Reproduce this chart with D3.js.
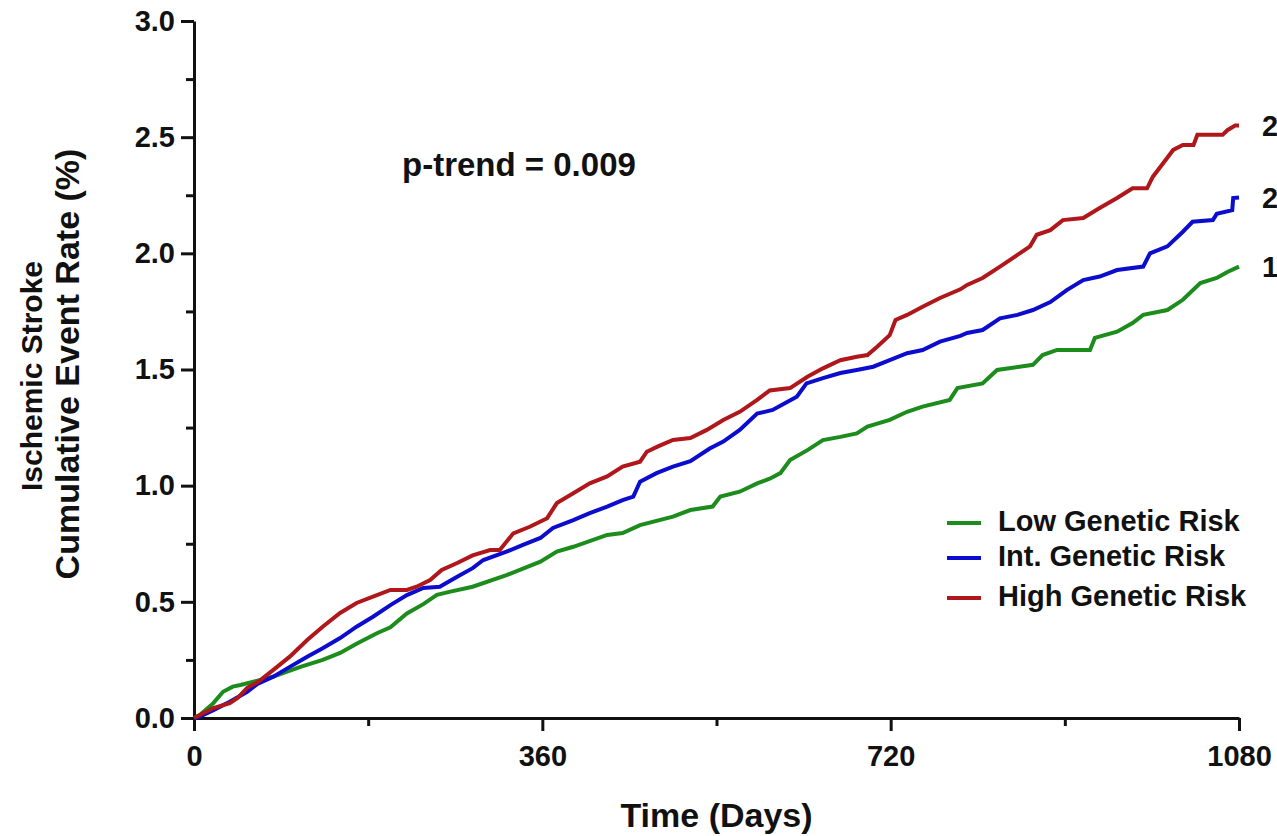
<!DOCTYPE html>
<html>
<head>
<meta charset="utf-8">
<script src="https://cdn.jsdelivr.net/npm/d3@7"></script>
<style>
  html, body { margin: 0; padding: 0; background: #fff; }
  svg { display: block; }
  text { font-family: "Liberation Sans", Arial, Helvetica, sans-serif; font-weight: bold; fill: #111; }
</style>
</head>
<body>
<svg id="chart" width="1277" height="836"></svg>
<script>
// ---- data ----
const seriesNames = ["Low Genetic Risk", "Int. Genetic Risk", "High Genetic Risk"];
const endLabels = ["1.94", "2.24", "2.55"];

const lowDays = [0, 6, 20, 30, 40, 48, 82, 110, 133, 151, 168, 189, 203, 220, 237, 251, 265, 288, 323, 358, 375, 392, 427, 443, 461, 495, 513, 536, 544, 564, 582, 595, 606, 616, 634, 650, 668, 685, 696, 719, 737, 753, 781, 789, 815, 830, 867, 877, 892, 926, 931, 954, 970, 981, 1006, 1022, 1040, 1057, 1068, 1080];
const lowRate = [0, 0.013, 0.064, 0.113, 0.135, 0.142, 0.178, 0.22, 0.25, 0.28, 0.32, 0.365, 0.39, 0.45, 0.49, 0.53, 0.544, 0.565, 0.615, 0.673, 0.716, 0.737, 0.788, 0.796, 0.83, 0.867, 0.895, 0.91, 0.953, 0.974, 1.01, 1.03, 1.054, 1.11, 1.153, 1.196, 1.21, 1.225, 1.254, 1.283, 1.318, 1.34, 1.369, 1.42, 1.44, 1.498, 1.52, 1.562, 1.584, 1.584, 1.636, 1.663, 1.70, 1.735, 1.756, 1.80, 1.872, 1.894, 1.92, 1.943];

const intDays = [0, 6, 20, 37, 55, 65, 82, 99, 117, 133, 151, 168, 185, 203, 220, 237, 254, 272, 288, 299, 323, 340, 358, 371, 392, 409, 427, 443, 454, 461, 478, 495, 513, 533, 547, 564, 582, 598, 613, 623, 633, 650, 668, 685, 702, 719, 737, 753, 771, 792, 799, 815, 833, 851, 867, 885, 902, 919, 936, 954, 981, 988, 1006, 1022, 1032, 1053, 1057, 1073, 1074, 1080];
const intRate = [0, 0.006, 0.034, 0.07, 0.113, 0.145, 0.178, 0.22, 0.264, 0.30, 0.344, 0.393, 0.436, 0.486, 0.529, 0.56, 0.565, 0.608, 0.645, 0.68, 0.716, 0.745, 0.775, 0.818, 0.852, 0.882, 0.91, 0.938, 0.953, 1.017, 1.054, 1.082, 1.105, 1.16, 1.19, 1.24, 1.31, 1.326, 1.36, 1.383, 1.44, 1.463, 1.485, 1.498, 1.512, 1.54, 1.57, 1.584, 1.62, 1.645, 1.657, 1.67, 1.72, 1.735, 1.756, 1.79, 1.842, 1.885, 1.9, 1.928, 1.943, 2.0, 2.03, 2.093, 2.136, 2.143, 2.17, 2.186, 2.238, 2.24];

const highDays = [0, 20, 37, 45, 55, 66, 82, 99, 117, 133, 151, 168, 185, 203, 220, 230, 244, 256, 272, 288, 306, 316, 330, 347, 365, 375, 392, 409, 427, 443, 461, 468, 479, 495, 513, 530, 547, 564, 582, 595, 616, 634, 650, 668, 685, 696, 706, 719, 725, 737, 753, 771, 792, 799, 815, 833, 851, 864, 871, 885, 898, 919, 936, 954, 970, 985, 991, 1002, 1012, 1022, 1033, 1037, 1063, 1068, 1076, 1080];
const highRate = [0, 0.043, 0.064, 0.086, 0.13, 0.155, 0.207, 0.264, 0.336, 0.393, 0.452, 0.495, 0.522, 0.551, 0.551, 0.565, 0.594, 0.637, 0.667, 0.70, 0.723, 0.723, 0.795, 0.823, 0.86, 0.925, 0.967, 1.01, 1.04, 1.082, 1.103, 1.146, 1.168, 1.197, 1.205, 1.24, 1.283, 1.318, 1.369, 1.41, 1.42, 1.469, 1.505, 1.54, 1.555, 1.562, 1.598, 1.648, 1.713, 1.735, 1.77, 1.808, 1.845, 1.864, 1.894, 1.943, 1.993, 2.03, 2.08, 2.10, 2.143, 2.152, 2.195, 2.238, 2.28, 2.28, 2.33, 2.39, 2.445, 2.466, 2.466, 2.51, 2.51, 2.53, 2.55, 2.55];

const xMajorTicks = [0, 360, 720, 1080];
const xMinorTicks = [180, 540, 900];
const yMajorTicks = [0, 0.5, 1.0, 1.5, 2.0, 2.5, 3.0];
const yMinorTicks = [0.25, 0.75, 1.25, 1.75, 2.25, 2.75];
const colors = ["#1c8c1c", "#0c0ccf", "#b0171b"];

// ---- drawing ----
const svg = d3.select("#chart");
const x = d3.scaleLinear().domain([0, 1080]).range([194, 1239]);
const y = d3.scaleLinear().domain([0, 3]).range([718, 21]);

const series = [
  { name: seriesNames[0], days: lowDays, rate: lowRate, color: colors[0], end: endLabels[0] },
  { name: seriesNames[1], days: intDays, rate: intRate, color: colors[1], end: endLabels[1] },
  { name: seriesNames[2], days: highDays, rate: highRate, color: colors[2], end: endLabels[2] }
];

function styleAxis(g) {
  g.selectAll("path.domain").attr("stroke", "#111").attr("stroke-width", 3);
  g.selectAll(".tick line").attr("stroke", "#111").attr("stroke-width", 3);
  g.selectAll(".tick text").attr("font-size", 29).attr("font-weight", "bold")
    .attr("font-family", "'Liberation Sans', Arial, sans-serif").attr("fill", "#111");
}

// x axis
const gx = svg.append("g").attr("transform", `translate(0,${y(0)})`)
  .call(d3.axisBottom(x).tickValues(xMajorTicks).tickSize(13).tickSizeOuter(0).tickPadding(14).tickFormat(d3.format("d")));
styleAxis(gx);
const gxm = svg.append("g").attr("transform", `translate(0,${y(0)})`)
  .call(d3.axisBottom(x).tickValues(xMinorTicks).tickSize(8).tickFormat(""));
gxm.select("path.domain").remove();
styleAxis(gxm);

// y axis
const gy = svg.append("g").attr("transform", `translate(${x(0)},0)`)
  .call(d3.axisLeft(y).tickValues(yMajorTicks).tickSize(13).tickSizeOuter(0).tickPadding(6).tickFormat(d3.format(".1f")));
styleAxis(gy);
const gym = svg.append("g").attr("transform", `translate(${x(0)},0)`)
  .call(d3.axisLeft(y).tickValues(yMinorTicks).tickSize(8).tickFormat(""));
gym.select("path.domain").remove();
styleAxis(gym);

// lines
const line = d3.line().x(d => x(d[0])).y(d => y(d[1])).curve(d3.curveLinear);
series.forEach(s => {
  const pts = s.days.map((d, i) => [d, s.rate[i]]);
  svg.append("path").datum(pts)
    .attr("d", line)
    .attr("fill", "none")
    .attr("stroke", s.color)
    .attr("stroke-width", 4)
    .attr("stroke-linejoin", "miter");
  // end value label (clipped by the page edge as in the reference)
  svg.append("text")
    .attr("x", x(1080) + 23)
    .attr("y", y(s.rate[s.rate.length - 1]) + 3)
    .attr("dominant-baseline", "middle")
    .attr("font-size", 29)
    .text(s.end);
});

// p-trend annotation
svg.append("text").attr("x", 402).attr("y", 167).attr("dominant-baseline", "middle")
  .attr("font-size", 33).text("p-trend = 0.009");

// legend
const legendY = [523, 558, 598];
[0, 1, 2].forEach(i => {
  svg.append("line").attr("x1", 947).attr("x2", 981).attr("y1", legendY[i]).attr("y2", legendY[i])
    .attr("stroke", series[i].color).attr("stroke-width", 4);
  svg.append("text").attr("x", 998).attr("y", legendY[i]).attr("dominant-baseline", "middle")
    .attr("font-size", 29).text(series[i].name);
});

// axis titles
svg.append("text").attr("x", x(540)).attr("y", 818).attr("text-anchor", "middle")
  .attr("dominant-baseline", "middle").attr("font-size", 34).text("Time (Days)");
svg.append("text").attr("transform", "translate(34,376) rotate(-90)").attr("text-anchor", "middle")
  .attr("dominant-baseline", "middle").attr("font-size", 30).text("Ischemic Stroke");
svg.append("text").attr("transform", "translate(70,364) rotate(-90)").attr("text-anchor", "middle")
  .attr("dominant-baseline", "middle").attr("font-size", 34).text("Cumulative Event Rate (%)");
</script>
</body>
</html>
